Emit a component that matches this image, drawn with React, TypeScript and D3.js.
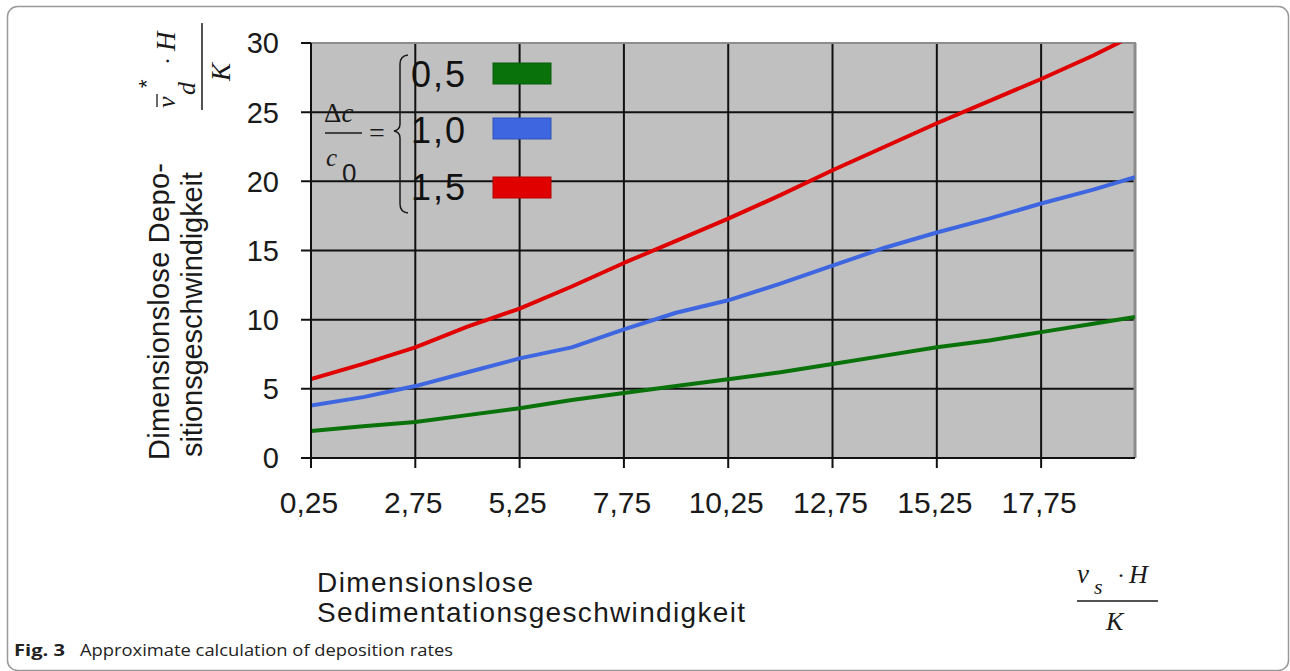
import React from "react";
import * as d3 from "d3";

const xValues = [0.25, 1.5, 2.75, 4, 5.25, 6.5, 7.75, 9, 10.25, 11.5, 12.75, 14, 15.25, 16.5, 17.75, 19, 20];
const green05 = [1.95, 2.3, 2.6, 3.1, 3.6, 4.2, 4.7, 5.2, 5.7, 6.2, 6.8, 7.4, 8.0, 8.5, 9.1, 9.7, 10.2];
const blue10 = [3.8, 4.4, 5.2, 6.2, 7.2, 8.0, 9.3, 10.5, 11.4, 12.6, 13.9, 15.2, 16.3, 17.3, 18.4, 19.4, 20.3];
const red15 = [5.7, 6.8, 8.0, 9.5, 10.8, 12.4, 14.1, 15.7, 17.3, 19.0, 20.8, 22.5, 24.2, 25.8, 27.4, 29.1, 30.6];

const xTicks = [0.25, 2.75, 5.25, 7.75, 10.25, 12.75, 15.25, 17.75];
const xTickLabels = ["0,25", "2,75", "5,25", "7,75", "10,25", "12,75", "15,25", "17,75"];
const yTicks = [0, 5, 10, 15, 20, 25, 30];

const seriesNames = ["0,5", "1,0", "1,5"];
const seriesColors = ["#0a720a", "#3d66e0", "#e00000"];
const seriesData = [green05, blue10, red15];

const W = 1290;
const H = 671;
const L = 311, R = 1135, T = 43, B = 458;

export default function App() {
  const x = d3.scaleLinear().domain([0.25, 20]).range([L, R]);
  const y = d3.scaleLinear().domain([0, 30]).range([B, T]);
  const line = d3
    .line<[number, number]>()
    .x((d) => x(d[0]))
    .y((d) => y(d[1]));

  const sans = "'Liberation Sans', Arial, sans-serif";
  const serif = "'Liberation Serif', 'Times New Roman', serif";
  const txt = "#1a1a1a";

  return (
    <svg
      width={W}
      height={H}
      style={{ position: "absolute", left: 0, top: 0, background: "#fff" }}
    >
      <defs>
        <clipPath id="plotclip">
          <rect x={L} y={T} width={R - L} height={B - T} />
        </clipPath>
      </defs>
      {/* outer frame */}
      <rect x={7.5} y={6.5} width={1281} height={664} rx={10} fill="none" stroke="#999" strokeWidth={1.5} />

      {/* plot background */}
      <rect x={L} y={T} width={R - L} height={B - T} fill="#c0c0c0" />

      {/* grid */}
      {xTicks.slice(1).map((t) => (
        <line key={"gx" + t} x1={x(t)} x2={x(t)} y1={T} y2={B + 10} stroke="#111" strokeWidth={2} />
      ))}
      {yTicks.slice(1, -1).map((t) => (
        <line key={"gy" + t} x1={L - 10} x2={R} y1={y(t)} y2={y(t)} stroke="#111" strokeWidth={2} />
      ))}
      <line x1={L - 10} x2={L} y1={y(30)} y2={y(30)} stroke="#111" strokeWidth={2} />
      <line x1={L - 10} x2={L} y1={y(0)} y2={y(0)} stroke="#111" strokeWidth={2} />

      {/* border top and right */}
      <line x1={L} x2={R + 1} y1={T} y2={T} stroke="#8c8c8c" strokeWidth={2} />
      <line x1={R} x2={R} y1={T} y2={B} stroke="#8c8c8c" strokeWidth={3} />

      {/* series lines */}
      <g clipPath="url(#plotclip)">
        {seriesData.map((s, i) => (
          <path
            key={"s" + i}
            d={line(s.map((v, j) => [xValues[j], v] as [number, number])) || ""}
            fill="none"
            stroke={seriesColors[i]}
            strokeWidth={4}
            strokeLinejoin="round"
          />
        ))}
      </g>

      {/* axes */}
      <line x1={L} x2={L} y1={T} y2={B + 10} stroke="#111" strokeWidth={2} />
      <line x1={L - 10} x2={R} y1={B} y2={B} stroke="#111" strokeWidth={2} />

      {/* y tick labels */}
      {yTicks.map((t) => (
        <text key={"yl" + t} x={279} y={y(t)} dy="0.36em" textAnchor="end" fontFamily={sans} fontSize={29} fill={txt}>
          {t}
        </text>
      ))}
      {/* x tick labels */}
      {xTicks.map((t, i) => (
        <text key={"xl" + t} x={x(t) - 2} y={513} textAnchor="middle" fontFamily={sans} fontSize={30} fill={txt}>
          {xTickLabels[i]}
        </text>
      ))}

      {/* legend */}
      <g>
        <text x={324} y={122} fontFamily={serif} fontSize={27} fill={txt}>
          Δ<tspan fontStyle="italic">c</tspan>
        </text>
        <line x1={325} x2={362} y1={133} y2={133} stroke={txt} strokeWidth={1.5} />
        <text x={326} y={166} fontFamily={serif} fontStyle="italic" fontSize={25} fill={txt}>c</text>
        <text x={342} y={182} fontFamily={sans} fontSize={26} fill={txt}>0</text>
        <text x={369} y={142} fontFamily={serif} fontSize={28} fill={txt}>=</text>
        <path
          d="M408,55 Q400,56 400,64 L400,124 Q400,130 394,131 Q400,132 400,138 L400,204 Q400,212 408,213"
          fill="none"
          stroke={txt}
          strokeWidth={1.5}
        />
        {seriesNames.map((n, i) => {
          const base = [87, 143, 200][i];
          const ry = [63, 118, 177][i];
          return (
            <g key={"lg" + i}>
              <text x={411} y={base} fontFamily={sans} fontSize={36} fill="#111" textLength={54} lengthAdjust="spacing">{n}</text>
              <rect x={493} y={ry} width={58} height={21} fill={seriesColors[i]} stroke={d3.color(seriesColors[i])!.darker(0.6).toString()} strokeWidth={1} />
            </g>
          );
        })}
      </g>

      {/* y axis title */}
      <g transform="translate(169,460) rotate(-90)">
        <text x={0} y={0} fontFamily={sans} fontSize={29} fill={txt} textLength={297} lengthAdjust="spacing">
          Dimensionslose Depo-
        </text>
      </g>
      <g transform="translate(202,457) rotate(-90)">
        <text x={0} y={0} fontFamily={sans} fontSize={29} fill={txt} textLength={285} lengthAdjust="spacing">
          sitionsgeschwindigkeit
        </text>
      </g>

      {/* rotated formula v̄*_d · H / K */}
      <g transform="translate(202,66) rotate(-90)" fontFamily={serif} fontStyle="italic" fill={txt}>
        <line x1={-44} x2={43} y1={0} y2={0} stroke={txt} strokeWidth={1.5} />
        <text x={-42} y={-27} fontSize={26}>v</text>
        <line x1={-41} x2={-28} y1={-45} y2={-45} stroke={txt} strokeWidth={1.3} />
        <text x={-22} y={-48} fontSize={22} fontStyle="normal" fontFamily={sans}>*</text>
        <text x={-29} y={-7} fontSize={26}>d</text>
        <text x={1} y={-27} fontSize={24} fontStyle="normal">·</text>
        <text x={15} y={-27} fontSize={27}>H</text>
        <text x={-15} y={28} fontSize={27}>K</text>
      </g>

      {/* x axis title */}
      <text x={317} y={592} fontFamily={sans} fontSize={28} fill={txt} textLength={216} lengthAdjust="spacing">
        Dimensionslose
      </text>
      <text x={317} y={622} fontFamily={sans} fontSize={28} fill={txt} textLength={428} lengthAdjust="spacing">
        Sedimentationsgeschwindigkeit
      </text>

      {/* right formula vs·H / K */}
      <g fontFamily={serif} fontStyle="italic" fill={txt}>
        <text x={1077} y={583} fontSize={27}>v</text>
        <text x={1094} y={594} fontSize={22}>s</text>
        <text x={1117} y={583} fontSize={24} fontStyle="normal">·</text>
        <text x={1129} y={583} fontSize={26}>H</text>
        <line x1={1077} x2={1158} y1={601} y2={601} stroke={txt} strokeWidth={1.5} />
        <text x={1106} y={630} fontSize={26}>K</text>
      </g>

      {/* caption */}
      <text x={14} y={656} fontFamily="'Open Sans', 'Noto Sans', sans-serif" fontSize={16} fontWeight="bold" fill="#222" textLength={51} lengthAdjust="spacingAndGlyphs">
        Fig. 3
      </text>
      <text x={80} y={656} fontFamily="'Open Sans', 'Noto Sans', sans-serif" fontSize={16} fill="#222" textLength={373} lengthAdjust="spacingAndGlyphs">
        Approximate calculation of deposition rates
      </text>
    </svg>
  );
}
